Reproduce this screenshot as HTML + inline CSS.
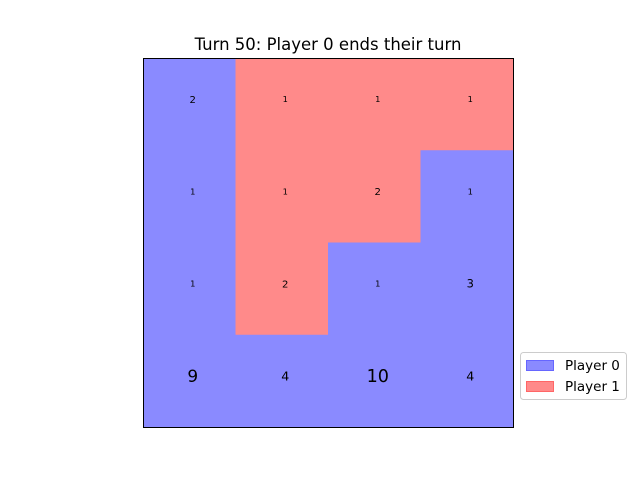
<!DOCTYPE html>
<html><head><meta charset="utf-8"><style>
body{margin:0;background:#fff;font-family:"DejaVu Sans","Liberation Sans",sans-serif;}
svg{display:block}
</style></head><body>
<svg id="chart" width="640" height="480">
<text x="328" y="50" font-size="16.5" text-anchor="middle" fill="#000">Turn 50: Player 0 ends their turn</text>
<g id="cells"></g>
<rect x="143.5" y="58.5" width="370" height="369" fill="none" stroke="#000" stroke-width="1"/>
<g>
<rect x="520.5" y="352.5" width="106" height="47" rx="3" fill="#fff" stroke="#ccc"/>
<rect x="526.5" y="360.5" width="27" height="10" fill="#8a8aff" stroke="#6666ff"/>
<text x="565" y="370" font-size="13.5">Player 0</text>
<rect x="526.5" y="381.5" width="27" height="10" fill="#ff8a8a" stroke="#ff6666"/>
<text x="565" y="391" font-size="13.5">Player 1</text>
</g>
</svg>
<script>
const owners = [[0,1,1,1],[0,1,1,0],[0,1,0,0],[0,0,0,0]];
const counts = [[2,1,1,1],[1,1,2,1],[1,2,1,3],[9,4,10,4]];
const colors = ['#8a8aff','#ff8a8a'];
const X0=143,Y0=58,W=370,H=369,N=4;
const xs=c=>X0+c*W/N, ys=r=>Y0+r*H/N;
const g=document.getElementById('cells');
const ns='http://www.w3.org/2000/svg';
for(let r=0;r<N;r++)for(let c=0;c<N;c++){
  const rect=document.createElementNS(ns,'rect');
  rect.setAttribute('x',xs(c));rect.setAttribute('y',ys(r));
  rect.setAttribute('width',W/N+0.5);rect.setAttribute('height',H/N+0.5);
  rect.setAttribute('fill',colors[owners[r][c]]);
  
  
  g.appendChild(rect);
}
for(let r=0;r<N;r++)for(let c=0;c<N;c++){
  const v=counts[r][c];
  const fs=4+4.3*Math.sqrt(v);
  const t=document.createElementNS(ns,'text');
  t.setAttribute('x',xs(c)+W/N/2+3.5);t.setAttribute('y',ys(r)+H/N/2-5+fs*0.36);
  t.setAttribute('font-size',fs);t.setAttribute('text-anchor','middle');
  t.textContent=v;
  
  
  g.appendChild(t);
}
</script>
</body></html>
